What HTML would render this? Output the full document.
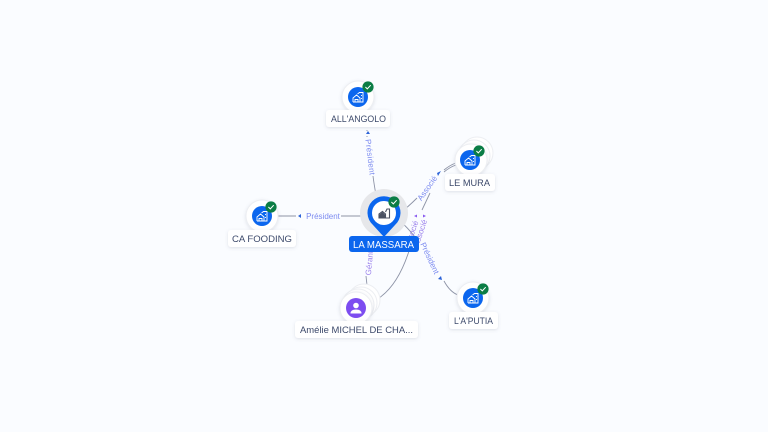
<!DOCTYPE html>
<html><head><meta charset="utf-8">
<style>
html,body{margin:0;padding:0;background:#fafcff;width:768px;height:432px;overflow:hidden}
svg{display:block}
text{font-family:"Liberation Sans",sans-serif}
.l{font-size:9.5px;fill:#3d4a6b}
.e{font-size:8px;fill:#7d8cf0;text-anchor:middle}
.p{font-size:8px;fill:#9a80ec;text-anchor:middle}
.ln{fill:none;stroke:#8d93a6;stroke-width:.9}
.c{fill:#fff;stroke:#eceef2;stroke-width:1}
</style></head><body>
<svg width="768" height="432" viewBox="0 0 768 432" xmlns="http://www.w3.org/2000/svg">
<defs>
<filter id="s" x="-20%" y="-30%" width="140%" height="170%"><feDropShadow dx="0" dy="1" stdDeviation="1.5" flood-color="#5a6480" flood-opacity=".18"/></filter>
<g id="chk"><circle r="5.6" fill="#0b7d45"/><path d="M-2.600 0 L-.7 1.900 L2.700 -1.800" fill="none" stroke="#fff" stroke-width="1"/></g>
<g id="bld"><circle r="10" fill="#0b66ee"/><path d="M-5 5 V1 L-1.500 -2 L2 1 V5 H-5 M-3 5 V2.500 H0 V5 M-.5 -3 L1.500 -4.500 H5 V5 H2.500 M3.500 -2 V-1 M3.500 1 V2" fill="none" stroke="#fff" stroke-width=".9"/></g>
</defs>

<!-- connectors -->
<path class="ln" d="M376 195 Q374 184 373 176"/>
<path class="ln" d="M367 137 V130" stroke-dasharray="1 2"/>
<path class="ln" d="M278 216 H296"/>
<path class="ln" d="M341 216 H365"/>
<path class="ln" d="M400 213 Q408 207 417 198"/>
<path class="ln" d="M422 210 L430 193"/>
<path class="ln" d="M444 170 Q450 165 456 163"/>
<path class="ln" d="M444 172 Q450 167 456 165"/>
<path class="ln" d="M398 219 Q408 228 415 237"/>
<path class="ln" d="M444 281 Q450 292 458 295"/>
<path class="ln" d="M367 285 L366 276"/>
<path class="ln" d="M409 251 Q398 285 379 298"/>

<!-- arrowheads -->
<path d="M368 131 L370 134 H366Z" fill="#2c63d8"/>
<path d="M298 216 L301 214 V218Z" fill="#2c63d8"/>
<path d="M441 171 L437 173 L438 176Z" fill="#2c63d8"/>
<path d="M441 276 L442 280 L438 279Z" fill="#2c63d8"/>
<path d="M414 216 L417 214.500 V217.500Z" fill="#8a5cf0"/>
<path d="M426 216 L423 214.500 V217.500Z" fill="#8a5cf0"/>

<!-- edge labels -->
<text class="e" transform="translate(370.500 157) rotate(83)" y="3" textLength="36">Président</text>
<text class="e" x="323" y="219">Président</text>
<text class="e" transform="translate(427 188) rotate(-55)" y="3">Associé</text>
<text class="e" transform="translate(430 258) rotate(65)" y="3">Président</text>
<text class="p" transform="translate(369 263) rotate(-85)" y="3">Gérant</text>
<text class="p" transform="translate(420 233) rotate(-72)" y="3">Associé</text>
<text class="p" transform="translate(411 234) rotate(-70)" y="3">Associé</text>

<!-- ALL'ANGOLO -->
<circle class="c" cx="358" cy="97" r="16" filter="url(#s)"/>
<use href="#bld" x="358" y="97"/>
<use href="#chk" x="368" y="87"/>
<rect x="326" y="110" width="64" height="17" rx="3" fill="#fff" filter="url(#s)"/>
<text class="l" x="331" y="122" textLength="55" lengthAdjust="spacingAndGlyphs">ALL'ANGOLO</text>

<!-- LE MURA -->
<circle class="c" cx="477" cy="153" r="16"/>
<circle class="c" cx="474" cy="156" r="16"/>
<circle class="c" cx="471" cy="160" r="16" filter="url(#s)"/>
<use href="#bld" x="470" y="160"/>
<use href="#chk" x="479" y="151"/>
<rect x="445" y="174" width="50" height="17" rx="3" fill="#fff" filter="url(#s)"/>
<text class="l" x="449" y="186" textLength="41" lengthAdjust="spacingAndGlyphs">LE MURA</text>

<!-- CA FOODING -->
<circle class="c" cx="262" cy="216" r="16" filter="url(#s)"/>
<use href="#bld" x="262" y="216"/>
<use href="#chk" x="271" y="207"/>
<rect x="228" y="230" width="68" height="17" rx="3" fill="#fff" filter="url(#s)"/>
<text class="l" x="232" y="242" textLength="60" lengthAdjust="spacingAndGlyphs">CA FOODING</text>

<!-- L'A'PUTIA -->
<circle class="c" cx="473" cy="298" r="16" filter="url(#s)"/>
<use href="#bld" x="473" y="298"/>
<use href="#chk" x="483" y="289"/>
<rect x="449" y="312" width="49" height="17" rx="3" fill="#fff" filter="url(#s)"/>
<text class="l" x="454" y="324" textLength="39" lengthAdjust="spacingAndGlyphs">L'A'PUTIA</text>

<!-- Amélie -->
<circle class="c" cx="364" cy="300" r="16"/>
<circle class="c" cx="361" cy="303" r="16"/>
<circle class="c" cx="358" cy="305" r="16"/>
<circle class="c" cx="356" cy="308" r="16" filter="url(#s)"/>
<circle cx="356" cy="308" r="10" fill="#7d4df0"/>
<circle cx="356" cy="305.500" r="2.800" fill="#fff"/>
<path d="M350.500 313.500 Q350.500 309.500 356 309.500 Q361.500 309.500 361.500 313.500Z" fill="#fff"/>
<rect x="295" y="321" width="123" height="17" rx="3" fill="#fff" filter="url(#s)"/>
<text class="l" x="300" y="333" textLength="113" lengthAdjust="spacingAndGlyphs">Amélie MICHEL DE CHA...</text>

<!-- LA MASSARA -->
<circle cx="384" cy="213" r="24" fill="#e6e7ea"/>
<path d="M384 237 L373 225 A16.500 16.500 0 1 1 395 225 Z" fill="#0b66ee"/>
<circle cx="384" cy="213" r="12" fill="#fff"/>
<path d="M379 218 V214 L382.500 211.500 L385.500 214 V218 Z M385.500 212 L387 209 H389.500 V218 H385.500" fill="none" stroke="#4b5263" stroke-width="1.100"/>
<path d="M379.500 217.500 V214.500 L382.500 212 L385 214.500 V217.500 Z" fill="#4b5263"/>
<use href="#chk" x="394" y="202"/>
<rect x="349" y="236" width="70" height="16" rx="3" fill="#0b66ee"/>
<text x="353" y="248" font-size="10" fill="#fff" textLength="61" lengthAdjust="spacingAndGlyphs">LA MASSARA</text>
</svg>
</body></html>
